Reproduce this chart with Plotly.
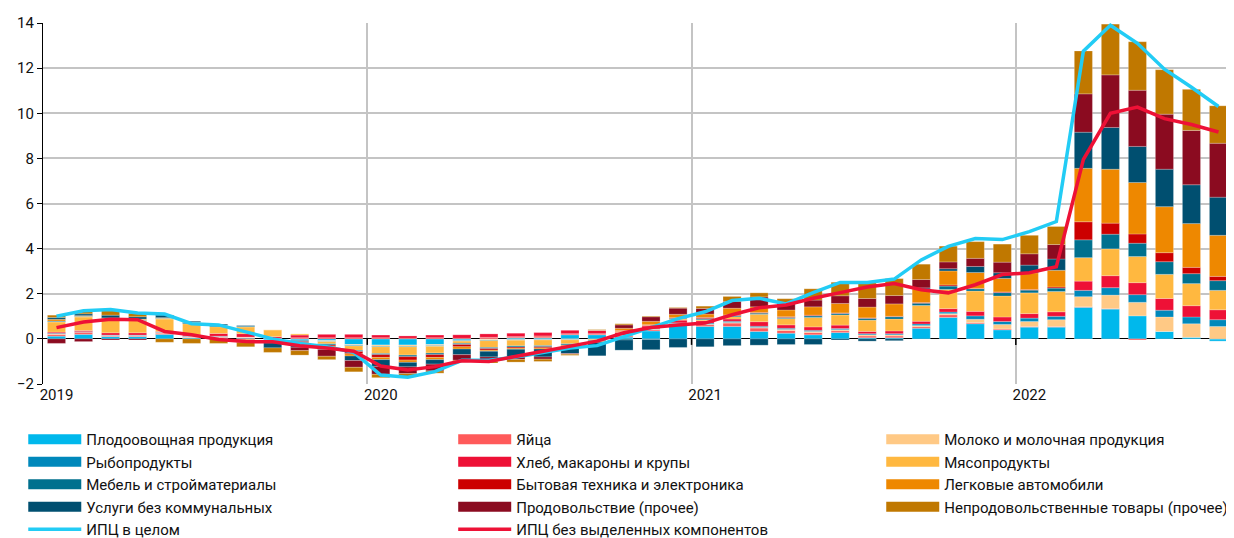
import plotly.graph_objects as go

# месяцы: январь 2019 - август 2022
months = ["2019-%02d" % m for m in range(1, 13)] + ["2020-%02d" % m for m in range(1, 13)] + \
         ["2021-%02d" % m for m in range(1, 13)] + ["2022-%02d" % m for m in range(1, 9)]
year_labels = ["2019", "2020", "2021", "2022"]

plod = [0.12, 0.2, 0.1, 0.1, 0.2, 0.05, 0.05, 0.03, -0.05, -0.05, -0.08, -0.25,
        -0.27, -0.27, -0.25, -0.05, -0.02, 0.05, 0.05, 0.18, 0.18, 0.08, 0.35, 0.6,
        0.55, 0.55, 0.33, 0.25, 0.18, 0.28, 0.05, 0.05, 0.47, 0.95, 0.67, 0.4,
        0.52, 0.52, 1.4, 1.32, 1.02, 0.33, 0.07, -0.1]
eggs = [0.08, 0.1, 0.03, 0.03, 0.05, 0.02, 0.03, 0.03, 0.03, 0.05, 0.05, 0.05,
        0.05, 0.03, 0.05, 0.03, 0.07, 0.05, 0.08, 0.05, 0.05, 0.05, 0.05, 0.05,
        0.08, 0.15, 0.15, 0.12, 0.1, 0.08, 0.08, 0.08, 0.07, 0.12, 0.05, 0.04,
        0.03, 0.03, 0.02, 0.02, -0.05, 0.0, 0.0, 0.0]
milk = [0.02, 0.0, 0.02, 0.02, 0.03, 0.03, 0.02, 0.02, 0.0, 0.0, -0.02, -0.03,
        -0.05, -0.05, -0.05, -0.02, -0.03, -0.03, -0.03, -0.02, 0.0, 0.02, 0.03, 0.03,
        0.02, 0.03, 0.03, 0.05, 0.05, 0.05, 0.05, 0.05, 0.05, 0.05, 0.15, 0.2,
        0.22, 0.3, 0.45, 0.6, 0.6, 0.64, 0.6, 0.55]
fish = [0.03, 0.02, 0.02, 0.02, 0.02, 0.02, 0.02, 0.0, -0.02, -0.02, -0.02, -0.03,
        -0.03, -0.03, -0.03, -0.03, -0.03, -0.03, -0.02, -0.02, -0.02, 0.02, 0.02, 0.03,
        0.05, 0.05, 0.05, 0.05, 0.05, 0.05, 0.05, 0.05, 0.07, 0.07, 0.15, 0.13,
        0.15, 0.15, 0.28, 0.33, 0.34, 0.3, 0.3, 0.3]
bread = [0.05, 0.05, 0.1, 0.1, 0.03, 0.05, 0.12, 0.15, 0.07, 0.12, 0.15, 0.15,
         0.12, 0.1, 0.12, 0.15, 0.15, 0.15, 0.15, 0.15, 0.15, 0.12, 0.12, 0.12,
         0.1, 0.1, 0.2, 0.15, 0.15, 0.15, 0.1, 0.12, 0.12, 0.15, 0.2, 0.2,
         0.2, 0.2, 0.41, 0.53, 0.53, 0.52, 0.5, 0.44]
meat = [0.45, 0.6, 0.6, 0.55, 0.55, 0.5, 0.3, 0.3, 0.3, 0.05, -0.1, -0.2,
        -0.3, -0.37, -0.3, -0.1, -0.3, -0.25, -0.25, -0.18, -0.05, 0.05, 0.03, 0.05,
        0.05, 0.1, 0.33, 0.28, 0.42, 0.45, 0.5, 0.53, 0.7, 0.85, 0.9, 0.93,
        0.92, 0.9, 1.04, 1.19, 1.16, 1.07, 0.98, 0.86]
furniture = [0.04, 0.03, 0.03, 0.03, 0.03, 0.05, 0.05, 0.03, -0.03, -0.05, -0.05, -0.05,
             -0.05, -0.07, -0.07, -0.05, -0.05, -0.05, -0.05, -0.05, -0.05, -0.05, -0.03, 0.03,
             0.05, 0.05, 0.05, 0.05, 0.07, 0.07, 0.08, 0.1, 0.1, 0.15, 0.1, 0.15,
             0.12, 0.15, 0.79, 0.65, 0.59, 0.56, 0.44, 0.43]
appliances = [0.0, 0.0, 0.0, 0.0, 0.0, 0.0, 0.0, -0.03, -0.03, -0.05, -0.05, -0.1,
              -0.12, -0.15, -0.12, -0.1, -0.07, -0.05, -0.05, -0.03, 0.0, 0.03, 0.03, 0.03,
              0.05, 0.03, 0.03, 0.03, 0.03, 0.02, 0.02, 0.02, 0.03, 0.05, 0.02, 0.03,
              0.03, 0.05, 0.8, 0.49, 0.41, 0.4, 0.28, 0.19]
cars = [0.08, 0.03, 0.03, 0.03, 0.03, 0.02, 0.02, -0.05, -0.05, -0.1, -0.1, -0.1,
        -0.1, -0.1, -0.1, -0.1, -0.05, -0.05, -0.05, -0.05, -0.03, 0.1, 0.15, 0.15,
        0.15, 0.3, 0.25, 0.3, 0.37, 0.42, 0.48, 0.55, 0.6, 0.62, 0.7, 0.6,
        0.74, 0.74, 2.37, 2.39, 2.28, 2.04, 1.94, 1.82]
services = [0.08, 0.08, 0.12, 0.1, 0.12, 0.05, 0.05, 0.03, -0.22, -0.1, -0.05, -0.2,
            -0.3, -0.2, -0.2, -0.25, -0.25, -0.35, -0.35, -0.3, -0.6, -0.45, -0.45, -0.38,
            -0.35, -0.3, -0.28, -0.25, -0.25, -0.05, -0.1, -0.08, 0.05, 0.1, 0.27, 0.25,
            0.34, 0.5, 1.6, 1.85, 1.6, 1.66, 1.72, 1.69]
food_other = [-0.2, -0.12, -0.05, -0.05, 0.0, 0.0, 0.0, -0.07, 0.0, -0.15, -0.3, -0.3,
              -0.35, -0.3, -0.3, -0.25, -0.2, -0.1, -0.1, -0.03, 0.0, 0.15, 0.2, 0.27,
              0.25, 0.3, 0.44, 0.3, 0.3, 0.34, 0.38, 0.37, 0.37, 0.3, 0.36, 0.47,
              0.5, 0.64, 1.7, 2.33, 2.49, 2.44, 2.41, 2.39]
nonfood_other = [0.1, 0.1, 0.2, 0.15, -0.15, -0.2, -0.2, -0.2, -0.2, -0.2, -0.15, -0.2,
                 -0.15, -0.15, -0.1, -0.05, -0.07, -0.12, -0.1, -0.05, 0.03, 0.05, 0.03, 0.03,
                 0.1, 0.22, 0.18, 0.2, 0.5, 0.6, 0.7, 0.75, 0.68, 0.7, 0.74, 0.8,
                 0.82, 0.8, 1.9, 2.25, 2.15, 1.97, 1.82, 1.66]

cpi = [1.0, 1.25, 1.3, 1.15, 1.1, 0.67, 0.62, 0.32, 0.0, -0.2, -0.35, -0.6,
       -1.6, -1.7, -1.45, -0.95, -0.95, -0.8, -0.6, -0.4, -0.3, 0.1, 0.5, 0.9,
       1.2, 1.7, 1.8, 1.55, 2.05, 2.5, 2.5, 2.65, 3.5, 4.1, 4.45, 4.4,
       4.75, 5.2, 12.75, 13.9, 13.1, 11.95, 11.15, 10.3]
cpi_ex = [0.5, 0.75, 0.87, 0.85, 0.33, 0.18, -0.03, -0.12, -0.13, -0.3, -0.4, -0.55,
          -1.2, -1.38, -1.23, -0.97, -1.0, -0.78, -0.56, -0.33, -0.1, 0.27, 0.5, 0.62,
          0.7, 1.07, 1.38, 1.5, 1.8, 2.05, 2.3, 2.45, 2.18, 2.04, 2.4, 2.85,
          2.93, 3.2, 7.95, 10.0, 10.27, 9.76, 9.5, 9.17]

# порядок наложения = порядок в данных; (название, значения, цвет, легенда)
components = [
    ("Плодоовощная продукция", plod, "#00b8ec", "legend"),
    ("Яйца", eggs, "#ff5a5a", "legend2"),
    ("Молоко и молочная продукция", milk, "#ffc985", "legend3"),
    ("Рыбопродукты", fish, "#0088bb", "legend"),
    ("Хлеб, макароны и крупы", bread, "#ee1136", "legend2"),
    ("Мясопродукты", meat, "#ffb840", "legend3"),
    ("Мебель и стройматериалы", furniture, "#00708e", "legend"),
    ("Бытовая техника и электроника", appliances, "#cc0000", "legend2"),
    ("Легковые автомобили", cars, "#ee8800", "legend3"),
    ("Услуги без коммунальных", services, "#004f70", "legend"),
    ("Продовольствие (прочее)", food_other, "#8b0b20", "legend2"),
    ("Непродовольственные товары (прочее)", nonfood_other, "#c07800", "legend3"),
]

x = list(range(len(months)))
fig = go.Figure()

for name, vals, color, leg in components:
    fig.add_trace(go.Bar(x=x, y=vals, name=name, marker_color=color,
                         marker_line=dict(color="rgba(255,255,255,0.45)", width=0.5),
                         showlegend=False))

# легенда: широкие полосы вместо квадратиков
for name, vals, color, leg in components:
    fig.add_trace(go.Scatter(x=[None], y=[None], mode="lines", name=name,
                             line=dict(color=color, width=11), legend=leg))

fig.add_trace(go.Scatter(x=x, y=cpi, mode="lines", name="ИПЦ в целом",
                         line=dict(color="#22ccf5", width=3.5), legend="legend"))
fig.add_trace(go.Scatter(x=x, y=cpi_ex, mode="lines", name="ИПЦ без выделенных компонентов",
                         line=dict(color="#ee1136", width=3.5), legend="legend2"))

# засечки на нулевой линии на границах лет
for b in [11.5, 23.5, 35.5]:
    fig.add_shape(type="line", xref="x", yref="y", ysizemode="pixel", yanchor=0,
                  x0=b, x1=b, y0=0, y1=-6, line=dict(color="black", width=1.5))

legend_style = dict(orientation="v", yanchor="top", y=-0.108, xanchor="left",
                    font=dict(family="Roboto", size=15, color="#111"),
                    itemwidth=53, tracegroupgap=0, bgcolor="rgba(0,0,0,0)")

# страница добавляет отступ 8px, поэтому поля на 8px меньше
fig.update_layout(
    width=1226, height=530,
    margin=dict(l=35, r=2, t=15, b=154, autoexpand=False),
    barmode="relative", bargap=0.33,
    plot_bgcolor="white", paper_bgcolor="white",
    font=dict(family="Roboto", size=15, color="#111"),
    legend=dict(legend_style, x=-0.0166),
    legend2=dict(legend_style, x=0.345),
    legend3=dict(legend_style, x=0.705),
)
fig.update_xaxes(range=[-0.5, len(months) - 0.5], tickvals=[0, 12, 24, 36], ticktext=year_labels,
                 showgrid=False, zeroline=False, showline=False, ticks="", automargin=False,
                 minor=dict(tickvals=[11.5, 23.5, 35.5], showgrid=True, gridcolor="#c4c4c4", gridwidth=1.5))
fig.update_yaxes(range=[-2, 14], dtick=2, showgrid=True, gridcolor="#c4c4c4", gridwidth=1.5,
                 zeroline=True, zerolinecolor="black", zerolinewidth=1.2, automargin=False,
                 showline=True, linecolor="black", linewidth=1.2, ticks="outside", ticklen=5,
                 tickcolor="black")

fig.write_html("out.html")
